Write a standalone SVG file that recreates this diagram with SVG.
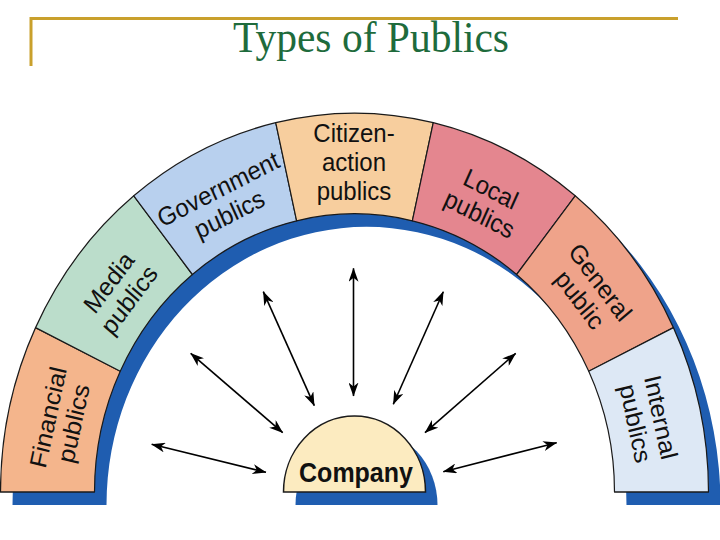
<svg xmlns="http://www.w3.org/2000/svg" width="720" height="540" viewBox="0 0 720 540">
<style>
.seg{stroke:#1a1a1a;stroke-width:1.2;stroke-linejoin:round}
.lbl{font-family:"Liberation Sans",Arial,sans-serif;font-size:24px;fill:#111;text-anchor:middle}
.arrow{stroke:#000;stroke-width:1.6;fill:none;marker-start:url(#ah);marker-end:url(#ah)}
.shadow{fill:#1F5DB0}
</style>
<defs>
<marker id="ah" viewBox="0 0 14 10" refX="13.5" refY="5" markerWidth="14" markerHeight="10" markerUnits="userSpaceOnUse" orient="auto-start-reverse">
<path d="M0,0 L14,5 L0,10 L4,5 Z" fill="#000"/>
</marker>
</defs>
<rect width="720" height="540" fill="#fff"/>
<g id="title">
<line x1="30" y1="18.5" x2="678" y2="18.5" stroke="#C9A02C" stroke-width="3"/>
<line x1="31" y1="17" x2="31" y2="66" stroke="#C9A02C" stroke-width="3"/>
<text transform="translate(371,51.7) scale(1,1.07)" x="0" y="0" font-family="'Liberation Serif','Times New Roman',serif" font-size="41.5" fill="#1E6B3C" text-anchor="middle">Types of Publics</text>
</g>
<g id="diagram" transform="matrix(1 0 0 1.07 0 -34.44)">
<path id="arch-shadow" class="shadow" transform="translate(12,12.2)" d="M0.5,492 A354,354 0 0 1 708.5,492 L614.5,492 A260,260 0 0 0 94.5,492 Z"/>
<g id="financial">
<path class="seg" fill="#F4B58C" d="M0.5,492 A354,354 0 0 1 35.56,338.40 L120.25,379.19 A260,260 0 0 0 94.5,492 Z"/>
<text class="lbl" transform="translate(61.05,425.02) rotate(-77.14)"><tspan x="0" y="-5">Financial</tspan><tspan x="0" y="21">publics</tspan></text>
</g>
<g id="media">
<path class="seg" fill="#BBDDCB" d="M35.56,338.40 A354,354 0 0 1 133.78,215.23 L192.39,288.72 A260,260 0 0 0 120.25,379.19 Z"/>
<text class="lbl" transform="translate(119.17,304.33) rotate(-51.43)"><tspan x="0" y="-5">Media</tspan><tspan x="0" y="21">publics</tspan></text>
</g>
<g id="government">
<path class="seg" fill="#B8D0EE" d="M133.78,215.23 A354,354 0 0 1 275.73,146.88 L296.64,238.52 A260,260 0 0 0 192.39,288.72 Z"/>
<text class="lbl" transform="translate(223.9,220.81) rotate(-25.71)"><tspan x="0" y="-5">Government</tspan><tspan x="0" y="21">publics</tspan></text>
</g>
<g id="citizen-action">
<path class="seg" fill="#F7CE9E" d="M275.73,146.88 A354,354 0 0 1 433.27,146.88 L412.36,238.52 A260,260 0 0 0 296.64,238.52 Z"/>
<text class="lbl"><tspan x="354" y="164.5">Citizen-</tspan><tspan x="354" y="192">action</tspan><tspan x="354" y="219.5">publics</tspan></text>
</g>
<g id="local">
<path class="seg" fill="#E4868F" d="M433.27,146.88 A354,354 0 0 1 575.22,215.23 L516.61,288.72 A260,260 0 0 0 412.36,238.52 Z"/>
<text class="lbl" transform="translate(485.1,220.81) rotate(25.71)"><tspan x="0" y="-5">Local</tspan><tspan x="0" y="21">publics</tspan></text>
</g>
<g id="general">
<path class="seg" fill="#EFA38A" d="M575.22,215.23 A354,354 0 0 1 673.44,338.40 L588.75,379.19 A260,260 0 0 0 516.61,288.72 Z"/>
<text class="lbl" transform="translate(589.83,304.33) rotate(51.43)"><tspan x="0" y="-5">General</tspan><tspan x="0" y="21">public</tspan></text>
</g>
<g id="internal">
<path class="seg" fill="#DDE8F5" d="M673.44,338.40 A354,354 0 0 1 708.5,492 L614.5,492 A260,260 0 0 0 588.75,379.19 Z"/>
<text class="lbl" transform="translate(647.95,425.02) rotate(77.14)"><tspan x="0" y="-5">Internal</tspan><tspan x="0" y="21">publics</tspan></text>
</g>
<g id="company">
<path class="shadow" transform="translate(12,12.2)" d="M283.5,492 A71,71 0 0 1 425.5,492 Z"/>
<path fill="#FCEBC0" stroke="#1a1a1a" stroke-width="1.5" d="M283.5,492 A71,71 0 0 1 425.5,492 Z"/>
<text x="356" y="482.6" font-family="'Liberation Sans',Arial,sans-serif" font-size="25" font-weight="bold" fill="#111" text-anchor="middle">Company</text>
</g>
</g>
<g id="connectors">
<line class="arrow" x1="151.7" y1="444.3" x2="266" y2="472.3"/>
<line class="arrow" x1="190.7" y1="353.3" x2="282.7" y2="432.7"/>
<line class="arrow" x1="263.3" y1="291.7" x2="314.3" y2="405.7"/>
<line class="arrow" x1="353.5" y1="268.3" x2="353.5" y2="396"/>
<line class="arrow" x1="443.3" y1="291.7" x2="393.3" y2="404.3"/>
<line class="arrow" x1="515.7" y1="353.3" x2="425" y2="432.7"/>
<line class="arrow" x1="556.7" y1="442.7" x2="443.3" y2="471.7"/>
</g>
</svg>
